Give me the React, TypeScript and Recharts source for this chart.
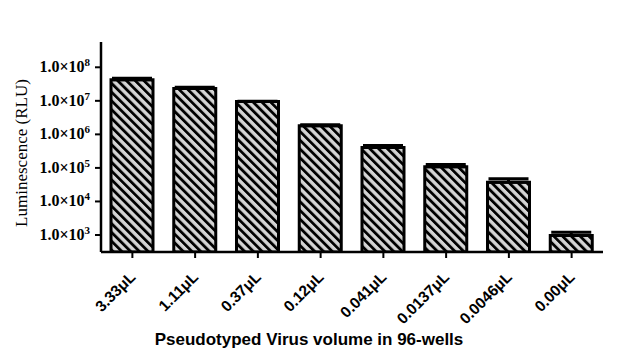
import { BarChart, Bar, XAxis, YAxis, ErrorBar, Label } from 'recharts';

const volumes = ['3.33μL', '1.11μL', '0.37μL', '0.12μL', '0.041μL', '0.0137μL', '0.0046μL', '0.00μL'];
const rlu = [4.24e7, 2.33e7, 9.6e6, 1.8e6, 4.06e5, 1.08e5, 3.75e4, 970];
const rluErr = [4.7e6, 2.1e6, 2e5, 1.3e5, 6e4, 1.8e4, 9.8e3, 240];
const yTicks = [1e3, 1e4, 1e5, 1e6, 1e7, 1e8];

const data = volumes.map((v, i) => ({ volume: v, value: rlu[i], err: [0, rluErr[i]] }));

const serif = '"Liberation Serif", "Times New Roman", serif';
const sans = '"Liberation Sans", Arial, sans-serif';

const YTick = (props: any) => {
    const { x, y, payload } = props;
    const exp = Math.round(Math.log10(payload.value));
    return (
        <text x={x - 3} y={y + 5} textAnchor="end" fontFamily={serif} fontWeight="bold" fontSize={16} fill="#000">
            1.0×10
            <tspan dy={-6} fontSize={11}>{exp}</tspan>
        </text>
    );
};

const XTick = (props: any) => {
    const { x, y, payload } = props;
    const ex = x + 4;
    const ey = y + 18;
    return (
        <text
            x={ex}
            y={ey}
            textAnchor="end"
            transform={`rotate(-45, ${ex}, ${ey})`}
            fontFamily={sans}
            fontWeight="bold"
            fontSize={15.5}
            fill="#000"
        >
            {payload.value}
        </text>
    );
};

const App = () => {
    return (
        <div style={{ position: 'absolute', left: 0, top: 0, background: '#fff' }}>
            <BarChart width={629} height={357} data={data} margin={{ top: 42, right: 26, bottom: 45, left: 21 }}>
                <defs>
                    <pattern id="hatch" patternUnits="userSpaceOnUse" width="6.2" height="6.2" patternTransform="rotate(-45)">
                        <rect x="0" y="0" width="6.2" height="6.2" fill="#d4d4d4" />
                        <rect x="0" y="0" width="2.8" height="6.2" fill="#000" />
                    </pattern>
                </defs>
                <XAxis
                    dataKey="volume"
                    interval={0}
                    height={60}
                    tick={<XTick />}
                    tickSize={6}
                    axisLine={{ stroke: '#000', strokeWidth: 2.5 }}
                    tickLine={{ stroke: '#000', strokeWidth: 2 }}
                >
                    <Label
                        content={() => (
                            <text x={309} y={345} textAnchor="middle" fontFamily={sans} fontWeight="bold" fontSize={17} fill="#000">
                                Pseudotyped Virus volume in 96-wells
                            </text>
                        )}
                    />
                </XAxis>
                <YAxis
                    scale="log"
                    domain={[Math.pow(10, 2.493), Math.pow(10, 8.754)]}
                    allowDataOverflow
                    ticks={yTicks}
                    width={80}
                    tick={<YTick />}
                    tickSize={6}
                    axisLine={{ stroke: '#000', strokeWidth: 2.5 }}
                    tickLine={{ stroke: '#000', strokeWidth: 2 }}
                >
                    <Label
                        content={() => (
                            <text
                                x={27}
                                y={153}
                                textAnchor="middle"
                                transform="rotate(-90, 27, 153)"
                                fontFamily={serif}
                                fontSize={17}
                                fill="#000"
                            >
                                Luminescence (RLU)
                            </text>
                        )}
                    />
                </YAxis>
                <Bar dataKey="value" fill="url(#hatch)" stroke="#000" strokeWidth={3} barSize={42} isAnimationActive={false}>
                    <ErrorBar dataKey="err" direction="y" width={20} stroke="#000" strokeWidth={3} isAnimationActive={false} />
                </Bar>
            </BarChart>
        </div>
    );
};

export default App;
